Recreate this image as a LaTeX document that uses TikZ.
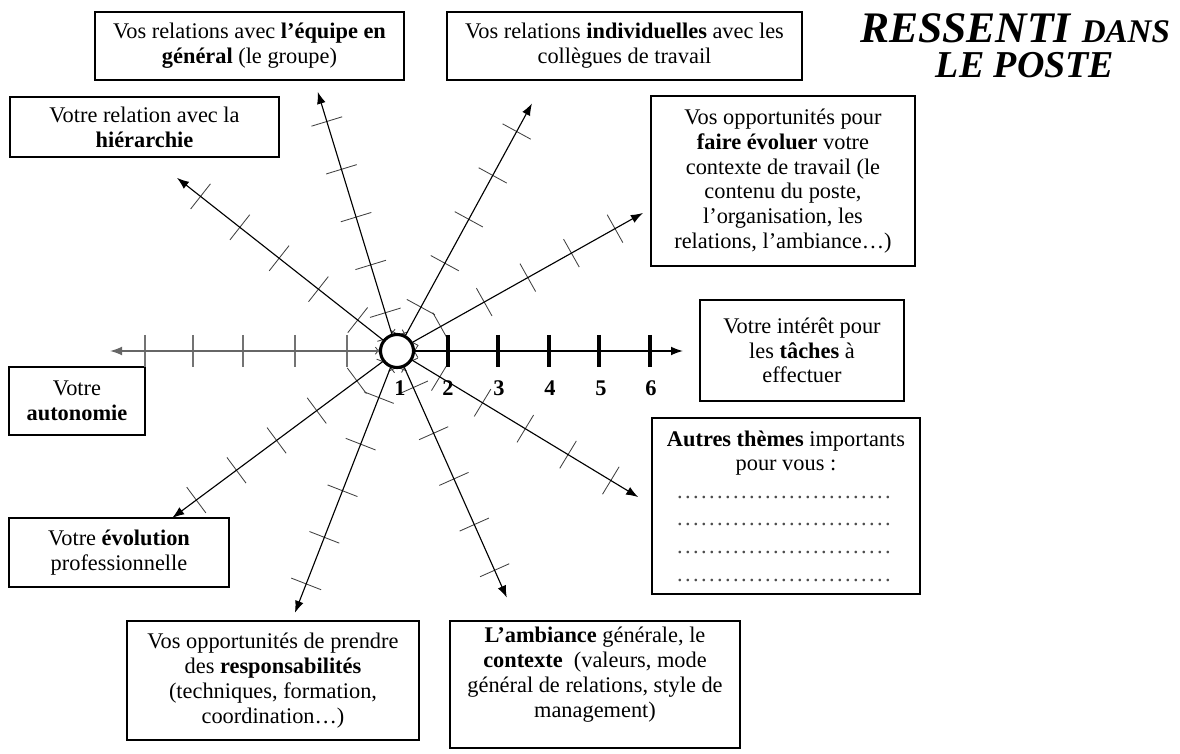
\documentclass[tikz,border=0pt]{standalone}
\usepackage{fontspec}
\setmainfont{Liberation Serif}
\usetikzlibrary{calc,arrows.meta}
\newcommand{\dotline}{\makebox[5.5cm]{\color{black!70}\leaders\hbox to 0.2cm{\hss.\hss}\hfill}}

\begin{document}
\begin{tikzpicture}[x=0.025cm, y=-0.025cm, >={Latex[length=0.3cm,width=0.22cm]},
    every node/.style={font=\fontsize{15.9pt}{17.6pt}\selectfont},
    theme/.style={draw, line width=0.9pt, align=center, inner sep=0pt},
    axis/.style={->, line width=0.8pt},
    tick/.style={line width=0.6pt, black!75}]
  \useasboundingbox (0,0) rectangle (1180,754);

  \node[theme, minimum width=7.725cm, minimum height=1.7cm] (equ) at (249.5,46)
    {Vos relations avec \textbf{l’équipe en}\\ \textbf{général} (le groupe)};
  \node[theme, minimum width=8.875cm, minimum height=1.7cm] (ind) at (624.5,46)
    {Vos relations \textbf{individuelles} avec les\\ collègues de travail};
  \node[theme, minimum width=6.725cm, minimum height=1.5cm] (hie) at (144.5,127)
    {Votre relation avec la\\ \textbf{hiérarchie}};
  \node[theme, minimum width=6.6cm, minimum height=4.25cm] (evo) at (783,181)
    {Vos opportunités pour\\ \textbf{faire évoluer} votre\\ contexte de travail (le\\ contenu du poste,\\ l’organisation, les\\ relations, l’ambiance…)};
  \node[theme, minimum width=5.1cm, minimum height=2.525cm] (tac) at (802,350.5)
    {Votre intérêt pour\\ les \textbf{tâches} à\\ effectuer};
  \node[theme, minimum width=6.7cm, minimum height=4.4cm] (oth) at (786,506)
    {\textbf{Autres thèmes} importants\\ pour vous :\\[2pt] \dotline\\[2pt] \dotline\\[2pt] \dotline\\[2pt] \dotline};
  \node[theme, minimum width=3.4cm, minimum height=1.7cm] (aut) at (77,401)
    {Votre\\ \textbf{autonomie}};
  \node[theme, minimum width=5.5cm, minimum height=1.725cm] (pro) at (119,552.5)
    {Votre \textbf{évolution}\\ professionnelle};
  \node[theme, minimum width=7.3cm, minimum height=2.975cm] (res) at (273,680.5)
    {Vos opportunités de prendre\\ des \textbf{responsabilités}\\ (techniques, formation,\\ coordination…)};
  \node[theme, minimum width=7.25cm, minimum height=3.175cm] (amb) at (595,684.5)
    {\textbf{L’ambiance} générale, le\\ \textbf{contexte}~ (valeurs, mode\\ général de relations, style de\\ management)\\ \mbox{}};

  \node[align=center, inner sep=0pt, font={\fontsize{31pt}{25pt}\selectfont\bfseries\itshape}] (title) at (1015,46)
    {RESSENTI {\fontsize{23.5pt}{25pt}\selectfont DANS}\\
     \hspace*{0.5cm}{\fontsize{27pt}{25pt}\selectfont LE POSTE}};

  \coordinate (o) at (397,351);
  \foreach \a/\r/\s/\n in {-29.3/282/0/evo, -61.4/282/0/ind, -107/271/-10/equ, -141.8/280/0/hie,
                           143.4/280/0/pro, 111.3/281/0/res, 66/270/-10/amb, 31.2/282/0/oth}{
    \coordinate (tip-\n) at ($(o)+(\a:\r)$);
    \draw[tick] ($(o)+(\a:15)$) ++({\a+90}:16) -- ++({\a-90}:32);
    \foreach \k in {1,...,5}
      \draw[tick] ($(o)+(\a:{50*\k+\s})$) ++({\a+90}:16) -- ++({\a-90}:32);
  }
  \coordinate (tip-tac) at (683,351);
  \coordinate (tip-aut) at (110,351);
  \foreach \x in {347,295,243,193,145}
    \draw[line width=0.8pt, black!55] (\x,335) -- (\x,367);
  \foreach \x in {448,498,549,599,650}
    \draw[line width=2.2pt] (\x,335) -- (\x,367);

  \node[circle, draw, line width=2.2pt, fill=white, minimum size=0.825cm, inner sep=0pt] (c) at (o) {};
  \foreach \n in {evo,ind,equ,hie,pro,res,amb,oth}
    \draw[axis] (c) -- (tip-\n);
  \draw[axis, line width=1pt, black!60] (c) -- (tip-aut);
  \draw[axis, line width=1pt] (c) -- (tip-tac);

  \foreach \v/\x in {1/400, 2/448, 3/499, 4/550, 5/601, 6/651}
    \node[font={\fontsize{15.9pt}{17pt}\selectfont\bfseries}] (lab\v) at (\x,388) {\v};
\end{tikzpicture}
\end{document}
